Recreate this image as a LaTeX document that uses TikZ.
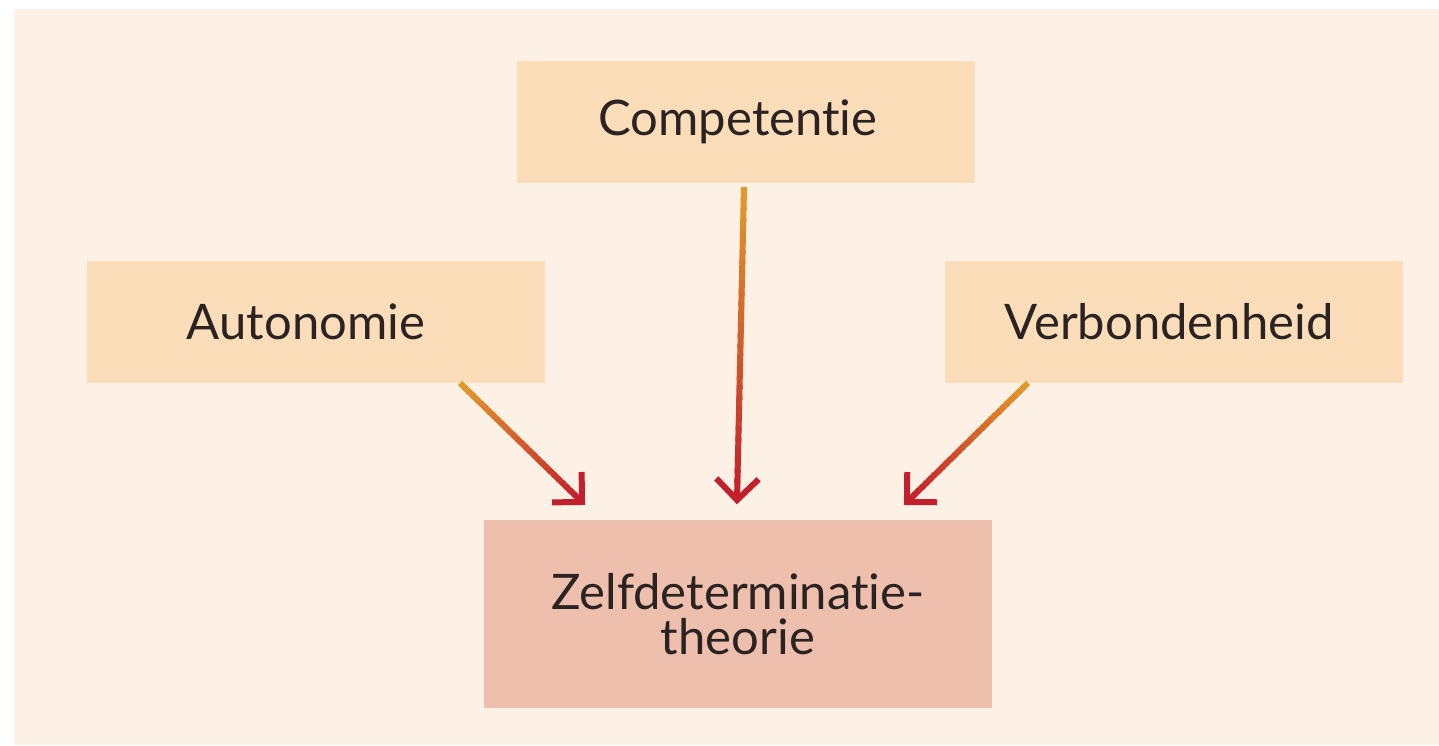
\documentclass[tikz,border=0pt]{standalone}
\usepackage{fontspec}
\setmainfont{Lato}[Ligatures={NoCommon}, RawFeature=-clig]
\usetikzlibrary{calc}
\definecolor{bgcream}{HTML}{FDF1E6}
\definecolor{boxlight}{HTML}{FCDDB9}
\definecolor{boxdark}{HTML}{EDBFAC}
\definecolor{txt}{HTML}{2B2222}
\definecolor{gOrange}{HTML}{E39A2A}
\definecolor{gRed}{HTML}{C2202C}
\newcommand\gradarrow[2]{%
  \foreach \i in {0,...,29}{%
    \pgfmathsetmacro\pa{\i/30}%
    \pgfmathsetmacro\pb{min(1,(\i+1.4)/30)}%
    \pgfmathtruncatemacro\pc{100-\i*100/29}%
    \draw[line width=3pt, color=gOrange!\pc!gRed] ($(#1)!\pa!(#2)$) -- ($(#1)!\pb!(#2)$);
  }%
  \draw[line width=3pt, color=gRed, line join=miter]
    ($(#2)!15pt!45:(#1)$) -- (#2) -- ($(#2)!15pt!-45:(#1)$);
}
\begin{document}
\begin{tikzpicture}[x=0.5pt,y=-0.5pt,
  box/.style={fill=boxlight, text=txt, font=\fontsize{24.5}{28}\selectfont,
    minimum width=229pt, minimum height=61pt, inner sep=0pt, outer sep=0pt},
  mainbox/.style={fill=boxdark, text=txt, font=\fontsize{24.5}{22.5}\selectfont,
    minimum width=254pt, minimum height=94pt, inner sep=0pt, outer sep=0pt, align=center}]
\useasboundingbox (0,0) rectangle (1439,745);
\fill[white] (0,0) rectangle (1439,745);
\fill[bgcream] (14,9) rectangle (1439,745);
\node[box] (comp) at (746,122) {Competentie\hspace*{8pt}};
\node[box] (auto) at (316,322) {Autonomie\hspace*{10pt}};
\node[box] (verb) at (1174,322) {Verbondenheid\hspace*{5pt}};
\node[mainbox] (zelf) at (738,614) {Zelfdeterminatie-\\theorie};
\coordinate (a1) at ($(auto.south east)+(-85,0)$);
\coordinate (a2) at ($(zelf.north west)+(98,-18)$);
\coordinate (c1) at ($(comp.south)+(-2,4)$);
\coordinate (c2) at ($(zelf.north)+(-1,-20)$);
\coordinate (v1) at ($(verb.south west)+(83,0)$);
\coordinate (v2) at ($(zelf.north east)+(-85,-18)$);
\gradarrow{a1}{a2}
\gradarrow{c1}{c2}
\gradarrow{v1}{v2}
\end{tikzpicture}
\end{document}
